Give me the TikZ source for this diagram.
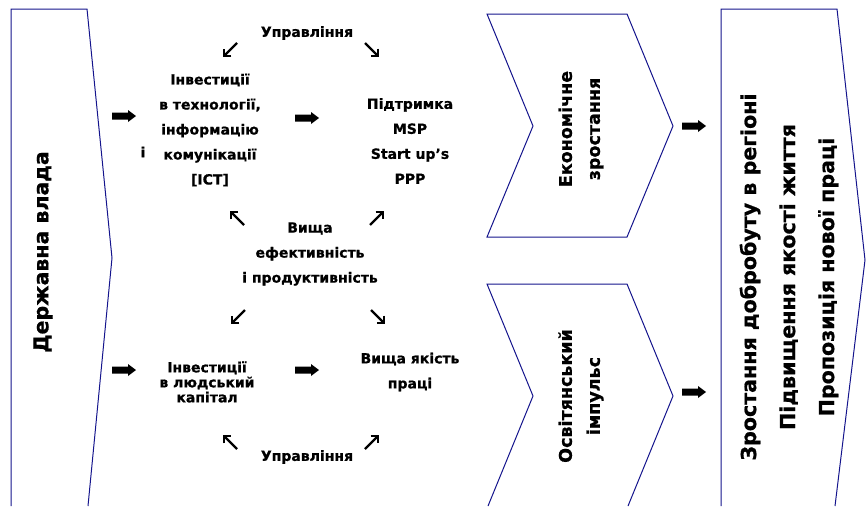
\documentclass[tikz,border=0pt]{standalone}
\usepackage{fontspec}
\setmainfont{DejaVu Sans}[BoldFeatures={FakeBold=0.8}]
\usetikzlibrary{arrows.meta}
\definecolor{outline}{RGB}{20,20,140}

\begin{document}
\begin{tikzpicture}[x=1pt,y=-1pt,
  panel/.style={draw=outline, line width=1pt, line join=miter},
  midtext/.style={font=\bfseries\fontsize{14}{25}\selectfont, align=center, inner sep=0pt},
  tighttext/.style={font=\bfseries\fontsize{14}{15}\selectfont, align=center, inner sep=0pt},
  chevtext/.style={font=\bfseries\fontsize{17.5}{28}\selectfont, align=center, inner sep=0pt, rotate=90},
  sidetext/.style={font=\bfseries\fontsize{20.5}{23}\selectfont, align=center, inner sep=0pt, rotate=90},
  resulttext/.style={font=\bfseries\fontsize{20.6}{39}\selectfont, align=center, inner sep=0pt, rotate=90},
  smallarrow/.style={line width=2.4pt, -{Straight Barb[length=5pt,width=10pt,line width=2.4pt]}},
  bigarrow/.pic={\fill[black] (-12,-3.5) -- (4,-3.5) -- (4,-6) -- (12,0) -- (4,6) -- (4,3.5) -- (-12,3.5) -- cycle;}
]
\useasboundingbox (0,0) rectangle (866,506);

% outer panels
\draw[panel] (11,506) -- (11,9) -- (87,9) -- (112,258) -- (88,506);
\draw[panel] (721,506) -- (721,9) -- (837,9) -- (865,260) -- (835,506);

% chevrons
\draw[panel] (487,14) -- (627,14) -- (673,126) -- (627,237) -- (487,237) -- (533,126) -- cycle;
\draw[panel] (488,506) -- (533,396) -- (487,284) -- (627,284) -- (673,396) -- (628,506);

% side and result texts
\node[sidetext] (gov) at (43,252) {Державна влада};
\node[chevtext] (growth) at (581,129) {Економічне\\зростання};
\node[chevtext] (edu) at (581,396) {Освітянський\\імпульс};
\node[resulttext] (results) at (789,277) {Зростання добробуту в регіоні\\Підвищення якості життя\\Пропозиція нової праці};

% central cycle texts
\node[midtext] (mgmttop) at (307,33) {Управління};
\node[midtext] (ict) at (210,130) {Інвестиції\\в технології,\\інформацію\\комунікації\\{[ICT]}};
\node[midtext] (conj) at (143,152) {і};
\node[midtext] (sme) at (410,141) {Підтримка\\MSP\\Start up’s\\PPP};
\node[midtext] (eff) at (310,254) {Вища\\ефективність\\і продуктивність};
\node[tighttext] (human) at (207,382) {Інвестиції\\в людський\\капітал};
\node[midtext] (quality) at (410,372) {Вища якість\\праці};
\node[midtext] (mgmtbot) at (307,457) {Управління};

% small diagonal arrows
\draw[smallarrow] (237,43) -- (223,57);
\draw[smallarrow] (365,43) -- (379,57);
\draw[smallarrow] (244,225) -- (230,211);
\draw[smallarrow] (370,225) -- (384,211);
\draw[smallarrow] (245,310) -- (231,324);
\draw[smallarrow] (371,310) -- (385,324);
\draw[smallarrow] (237,449) -- (223,435);
\draw[smallarrow] (365,449) -- (379,435);

% block arrows
\pic at (124,116) {bigarrow};
\pic at (124,370) {bigarrow};
\pic at (307,118) {bigarrow};
\pic at (307,370) {bigarrow};
\pic at (694,126) {bigarrow};
\pic at (694,392) {bigarrow};
\end{tikzpicture}
\end{document}
